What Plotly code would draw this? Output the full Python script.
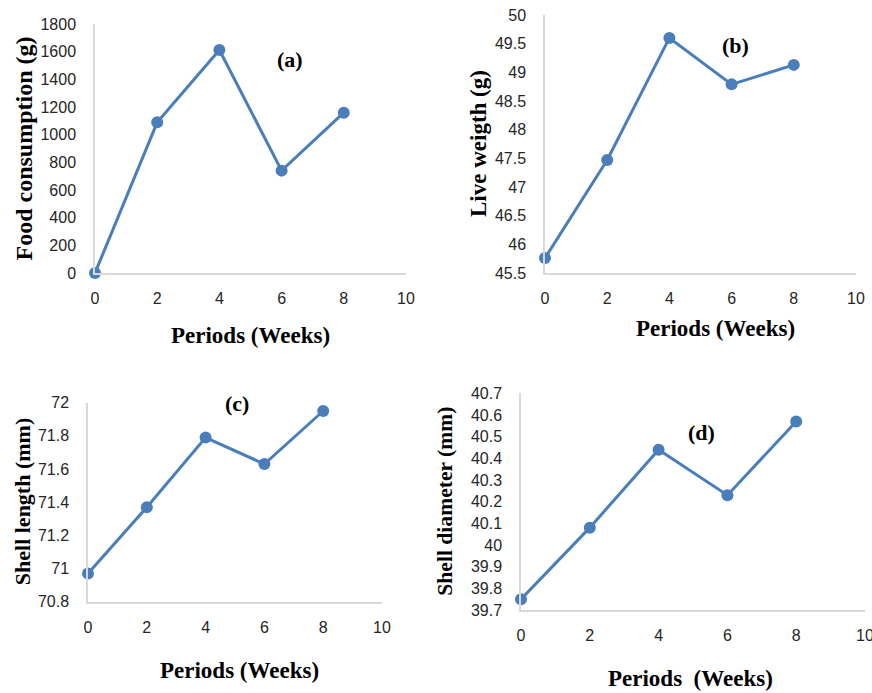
import plotly.graph_objects as go

weeks = [0, 2, 4, 6, 8]
food_consumption = [0, 1089, 1612, 740, 1159]
live_weight = [45.76, 47.47, 49.60, 48.79, 49.13]
shell_length = [70.97, 71.37, 71.79, 71.63, 71.95]
shell_diameter = [39.75, 40.08, 40.44, 40.23, 40.57]

W, H = 872, 693
LINE = "#4a7ebb"
TICKFONT = dict(family="Liberation Sans, Arial, sans-serif", size=16, color="#262626")
TITLEFONT = dict(family="Liberation Serif, Times New Roman, serif", size=23, color="black")

panels = [
    dict(box=(95, 406, 24, 273), y=food_consumption, yr=[0, 1800], dy=200,
         ytitle="Food consumption (g)", ytx=23, yts=24,
         xtitle="Periods (Weeks)", xtx=250, xty=335, tag="(a)", tagx=290, tagy=60),
    dict(box=(545, 856, 15, 273), y=live_weight, yr=[45.5, 50], dy=0.5,
         ytitle="Live weigth (g)", ytx=478, yts=23,
         xtitle="Periods (Weeks)", xtx=715, xty=328, tag="(b)", tagx=735, tagy=45),
    dict(box=(88, 382, 402.7, 601.7), y=shell_length, yr=[70.8, 72], dy=0.2,
         ytitle="Shell length (mm)", ytx=22, yts=22,
         xtitle="Periods (Weeks)", xtx=239, xty=670, tag="(c)", tagx=237, tagy=403),
    dict(box=(521, 865, 393.3, 610), y=shell_diameter, yr=[39.7, 40.7], dy=0.1,
         ytitle="Shell diameter (mm)", ytx=445, yts=21.6,
         xtitle="Periods&nbsp;&nbsp;(Weeks)", xtx=690, xty=678, tag="(d)", tagx=701, tagy=432),
]

fig = go.Figure()
annotations = []
for i, p in enumerate(panels, start=1):
    l, r, t, b = p["box"]
    xa = "x" if i == 1 else f"x{i}"
    ya = "y" if i == 1 else f"y{i}"
    fig.add_trace(go.Scatter(
        x=weeks, y=p["y"], mode="lines+markers", xaxis=xa, yaxis=ya,
        line=dict(color=LINE, width=3), marker=dict(color=LINE, size=12),
        cliponaxis=False, showlegend=False, hoverinfo="x+y"))
    axis_common = dict(showgrid=False, zeroline=False, showline=True,
                       linecolor="#d9d9d9", linewidth=1.5, ticks="",
                       tickfont=TICKFONT, automargin=False,
                       ticklabeloverflow="allow")
    fig.layout[f"xaxis{'' if i == 1 else i}"] = dict(
        domain=[l / W, r / W], anchor=ya, range=[0, 10], dtick=2, tick0=0,
        ticklabelstandoff=10, **axis_common)
    fig.layout[f"yaxis{'' if i == 1 else i}"] = dict(
        domain=[1 - b / H, 1 - t / H], anchor=xa, range=p["yr"], dtick=p["dy"],
        tick0=p["yr"][0], ticklabelstandoff=14, **axis_common)
    cy = (t + b) / 2
    annotations.append(dict(text=f"<b>{p['ytitle']}</b>", x=p["ytx"] / W, y=1 - cy / H,
                            xref="paper", yref="paper", showarrow=False, textangle=-90,
                            xanchor="center", yanchor="middle",
                            font=dict(TITLEFONT, size=p["yts"])))
    annotations.append(dict(text=f"<b>{p['xtitle']}</b>", x=p["xtx"] / W, y=1 - p["xty"] / H,
                            xref="paper", yref="paper", showarrow=False,
                            xanchor="center", yanchor="middle", font=TITLEFONT))
    annotations.append(dict(text=f"<b>{p['tag']}</b>", x=p["tagx"] / W, y=1 - p["tagy"] / H,
                            xref="paper", yref="paper", showarrow=False,
                            xanchor="center", yanchor="middle",
                            font=dict(TITLEFONT, size=22)))

fig.update_layout(width=W, height=H, margin=dict(l=0, r=0, t=0, b=0),
                  paper_bgcolor="white", plot_bgcolor="white",
                  annotations=annotations)
fig.write_html("out.html", config={"displayModeBar": False},
               post_script="document.body.style.margin='0px';document.body.style.overflow='hidden';")
